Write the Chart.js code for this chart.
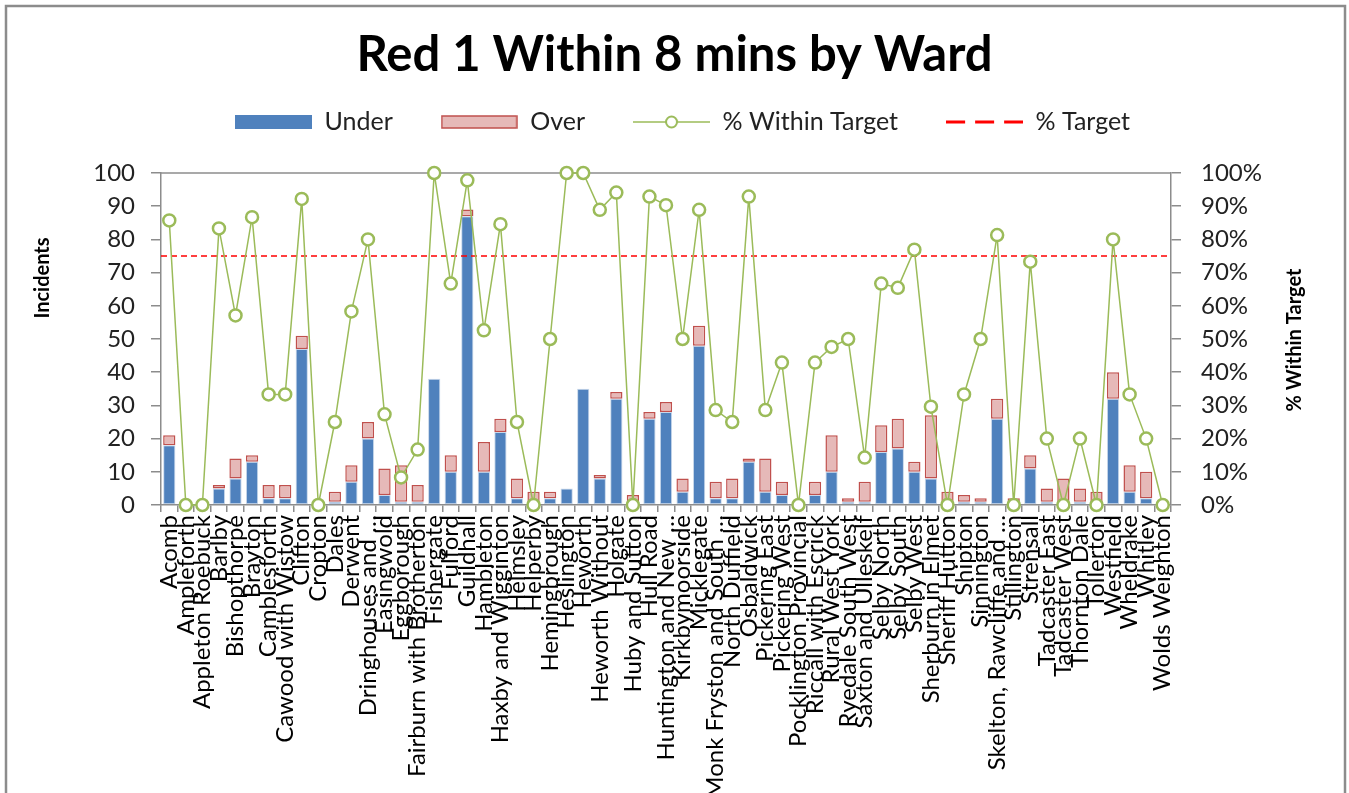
<!DOCTYPE html>
<html><head><meta charset="utf-8">
<script src="https://cdn.jsdelivr.net/npm/chart.js@4.4.0/dist/chart.umd.min.js"></script>
<style>html,body{margin:0;padding:0;background:#fff;overflow:hidden}#wrap{position:relative;width:1349px;height:793px}</style>
</head><body><div id="wrap"><canvas id="c"></canvas></div>
<script>
const chartTitle = 'Red 1 Within 8 mins by Ward';
const leftAxisTitle = 'Incidents';
const rightAxisTitle = '% Within Target';
const wards = ['Acomb','Ampleforth','Appleton Roebuck','Barlby','Bishopthorpe','Brayton','Camblesforth','Cawood with Wistow','Clifton','Cropton',
'Dales','Derwent','Dringhouses and \u2026','Easingwold','Eggborough','Fairburn with Brotherton','Fishergate','Fulford','Guildhall','Hambleton',
'Haxby and Wigginton','Helmsley','Helperby','Hemingbrough','Heslington','Heworth','Heworth Without','Holgate','Huby and Sutton','Hull Road',
'Huntington and New \u2026','Kirkbymoorside','Micklegate','Monk Fryston and South \u2026','North Duffield','Osbaldwick','Pickering East','Pickering West','Pocklington Provincial','Riccall with Escrick',
'Rural West York','Ryedale South West','Saxton and Ulleskelf','Selby North','Selby South','Selby West','Sherburn in Elmet','Sheriff Hutton','Shipton','Sinnington',
'Skelton, Rawcliffe and \u2026','Stillington','Strensall','Tadcaster East','Tadcaster West','Thornton Dale','Tollerton','Westfield','Wheldrake','Whitley',
'Wolds Weighton'];
const under = [18,0,0,5,8,13,2,2,47,0, 1,7,20,3,1,1,38,10,87,10, 22,2,0,2,5,35,8,32,0,26, 28,4,48,2,2,13,4,3,0,3, 10,1,1,16,17,10,8,0,1,1, 26,0,11,1,0,1,0,32,4,2, 0];
const over  = [3,0,0,1,6,2,4,4,4,0, 3,5,5,8,11,5,0,5,2,9, 4,6,4,2,0,0,1,2,3,2, 3,4,6,5,6,1,10,4,0,4, 11,1,6,8,9,3,19,4,2,1, 6,2,4,4,8,4,4,8,8,8, 0];
const pctWithin = [85.7,0,0,83.3,57.1,86.7,33.3,33.3,92.2,0, 25,58.3,80,27.3,8.3,16.7,100,66.7,97.8,52.6, 84.6,25,0,50,100,100,88.9,94.1,0,92.9, 90.3,50,88.9,28.6,25,92.9,28.6,42.9,0,42.9, 47.6,50,14.3,66.7,65.4,76.9,29.6,0,33.3,50, 81.3,0,73.3,20,0,20,0,80,33.3,20, 0];
const targetPct = [75, 75];
const seriesNames = ['Under','Over','% Within Target','% Target'];

const BLUE='#4F81BD', PINK='#E6B9B8', RED_EDGE='#C0504D', GREEN='#9BBB59', AXIS='#8c8c8c';
Chart.defaults.font.family = 'Lato, "Open Sans", sans-serif';

function icon(draw){ const c=document.createElement('canvas'); c.width=77; c.height=16; const x=c.getContext('2d'); draw(x); return c; }
const icons = [
  icon(x=>{x.fillStyle=BLUE;x.fillRect(0,1,77,14);}),
  icon(x=>{x.fillStyle=PINK;x.fillRect(1,2,75,12);x.strokeStyle=RED_EDGE;x.lineWidth=1.5;x.strokeRect(1,2,75,12);}),
  icon(x=>{x.strokeStyle=GREEN;x.lineWidth=1.5;x.beginPath();x.moveTo(0,8);x.lineTo(77,8);x.stroke();x.beginPath();x.arc(38.5,8,5.5,0,Math.PI*2);x.fillStyle='#fff';x.fill();x.lineWidth=2;x.stroke();}),
  icon(x=>{x.strokeStyle='#FF0000';x.lineWidth=3;x.setLineDash([19,10]);x.beginPath();x.moveTo(0,8);x.lineTo(77,8);x.stroke();})
];

const decor = {
  id:'decor',
  beforeInit(chart){
    if(chart.legend){ const f=chart.legend.fit; chart.legend.fit=function(){ f.call(this); this.height += 28.5; }; }
  },
  afterLayout(chart){
    if(chart.legend){ chart.legend.left += 8; chart.legend.right += 8; }
  },
  beforeDraw(chart){
    const c=chart.ctx; c.save(); c.fillStyle='#fff'; c.fillRect(0,0,chart.width,chart.height);
    c.strokeStyle=AXIS; c.lineWidth=2.5; c.strokeRect(6,6,1339,820); c.restore();
  },
  beforeDatasetsDraw(chart){
    const a=chart.chartArea, c=chart.ctx; c.save(); c.strokeStyle=AXIS; c.lineWidth=1.5;
    c.beginPath(); c.moveTo(a.left,a.top); c.lineTo(a.right,a.top); c.stroke(); c.restore();
  },
  afterDraw(chart){
    const c=chart.ctx; c.save(); c.fillStyle='#000'; c.font='bold 20px Lato, sans-serif'; c.textAlign='center'; c.textBaseline='middle';
    c.translate(43,278); c.rotate(-Math.PI/2); c.fillText(leftAxisTitle,0,0); c.restore();
    c.save(); c.fillStyle='#000'; c.font='bold 20px Lato, sans-serif'; c.textAlign='center'; c.textBaseline='middle';
    c.translate(1295,340); c.rotate(-Math.PI/2); c.fillText(rightAxisTitle,0,0); c.restore();
  }
};

new Chart(document.getElementById('c'), {
  type:'bar',
  data:{
    labels: wards,
    datasets:[
      {label:seriesNames[0], data:under, backgroundColor:BLUE, borderColor:'rgba(185,205,229,0.8)', borderWidth:1, borderSkipped:false, order:2, yAxisID:'y', xAxisID:'x'},
      {label:seriesNames[1], data:over, backgroundColor:PINK, borderColor:RED_EDGE, borderWidth:1.5, borderSkipped:false, order:2, yAxisID:'y', xAxisID:'x'},
      {type:'line', label:seriesNames[2], data:pctWithin, yAxisID:'y2', xAxisID:'x', borderColor:GREEN, borderWidth:1.5, pointRadius:6, pointBorderWidth:2.5, pointBackgroundColor:'#fff', pointBorderColor:GREEN, order:0, clip:false, tension:0},
      {type:'line', label:seriesNames[3], data:[{x:0,y:targetPct[0]},{x:1,y:targetPct[1]}], yAxisID:'y2', xAxisID:'xt', borderColor:'#FF0000', borderWidth:1.5, borderDash:[6,4], pointRadius:0, order:1}
    ]
  },
  options:{
    responsive:true, maintainAspectRatio:false, animation:false,
    layout:{padding:{top:0,left:0,right:0,bottom:0}},
    datasets:{bar:{grouped:false, barPercentage:0.74, categoryPercentage:1, maxBarThickness:12.3}},
    plugins:{
      tooltip:{enabled:false},
      title:{display:true, text:chartTitle, color:'#000', font:{size:49, weight:'bold', lineHeight:1}, padding:{top:30.5,bottom:-18}},
      legend:{display:true, labels:{usePointStyle:true, pointStyleWidth:77, boxHeight:14, padding:48, color:'#222', font:{size:25},
        sort:(a,b)=>a.datasetIndex-b.datasetIndex,
        generateLabels(chart){ const items=Chart.defaults.plugins.legend.labels.generateLabels(chart); items.forEach(it=>{it.pointStyle=icons[it.datasetIndex];}); return items; }}}
    },
    scales:{
      x:{type:'category', stacked:true, offset:true,
        grid:{offset:true, drawOnChartArea:false, drawTicks:true, tickLength:7, color:AXIS, lineWidth:1.5},
        border:{color:AXIS, width:1.5},
        ticks:{autoSkip:false, maxRotation:90, minRotation:90, padding:3, color:'#000', font:{size:24}},
        afterFit(s){ s.height = 288; }},
      xt:{type:'linear', display:false, offset:false, min:0, max:1},
      y:{type:'linear', position:'left', stacked:true, min:0, max:100,
        grid:{drawOnChartArea:false, drawTicks:true, tickLength:10, color:AXIS, lineWidth:1.5},
        border:{color:AXIS, width:1.5},
        ticks:{stepSize:10, padding:16, color:'#222', font:{size:24}},
        afterFit(s){ s.width = 161; }},
      y2:{type:'linear', position:'right', min:0, max:100,
        grid:{drawOnChartArea:false, drawTicks:true, tickLength:10, color:AXIS, lineWidth:1.5},
        border:{color:AXIS, width:1.5},
        ticks:{stepSize:10, padding:20, color:'#222', font:{size:24}, callback:v=>v+'%'},
        afterFit(s){ s.width = 178; }}
    }
  },
  plugins:[decor]
});
</script></body></html>
